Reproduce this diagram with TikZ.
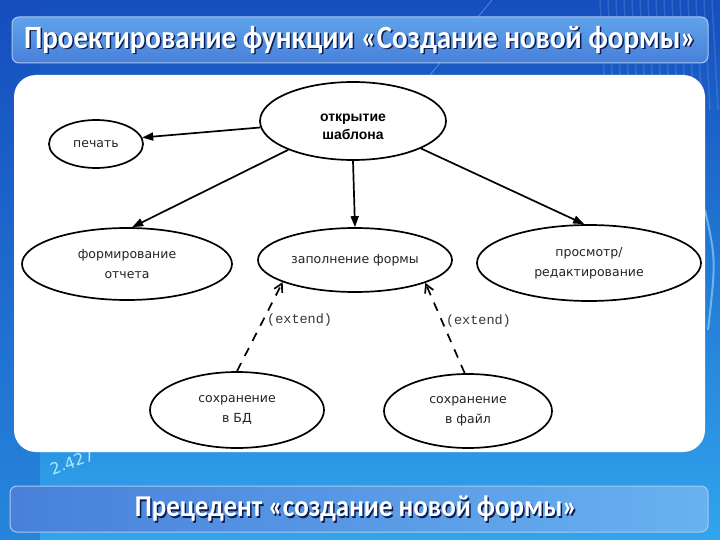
\documentclass[tikz,border=0pt]{standalone}
\usepackage{fontspec}
\setmainfont{DejaVu Sans}
\newfontfamily\opensans{Liberation Sans}
\newfontfamily\titlefont{Carlito}
\newfontfamily\labelfont{Liberation Mono}
\usetikzlibrary{shapes.geometric, arrows.meta}
\definecolor{bgdark}{RGB}{22,78,190}
\definecolor{bglight}{RGB}{48,165,236}
\definecolor{bardark}{RGB}{72,128,218}
\definecolor{barlight}{RGB}{104,178,240}
\definecolor{shadowblue}{RGB}{12,28,80}
\definecolor{usetext}{RGB}{35,35,35}
\definecolor{labelgray}{RGB}{55,55,55}
\tikzset{
  usecase/.style={ellipse, draw=black, line width=1.7pt, fill=white, text=usetext,
    align=center, inner sep=0pt, font=\fontsize{12.5}{20}\selectfont},
  assoc/.style={line width=1.7pt, -{Triangle[length=11pt,width=8pt]}},
  extendarrow/.style={line width=1.7pt, dash pattern=on 9pt off 8pt,
    -{Straight Barb[length=8pt,width=9pt]}},
  extendlabel/.style={right, text=labelgray, font=\labelfont\fontsize{13.5}{14}\selectfont},
  bartext/.style={text=white, yscale=1.12, font=\titlefont\bfseries\fontsize{29}{32}\selectfont},
  barshadow/.style={text=shadowblue, yscale=1.12, font=\titlefont\bfseries\fontsize{29}{32}\selectfont},
}
\begin{document}
\begin{tikzpicture}[x=1pt, y=-1pt]
  \useasboundingbox (0,0) rectangle (720,540);
  % background
  \shade[top color=bgdark, bottom color=bglight] (0,0) rectangle (720,540);
  \fill[bgdark, opacity=0.35] (0,0) rectangle (40,540);
  \foreach \x in {600,608,...,712}
    \draw[white, opacity=0.12, line width=1.5pt] (\x,0) -- (\x+6,110);
  \draw[white, opacity=0.25, line width=1pt] (492,0) -- (430,75);
  \draw[cyan!40, opacity=0.6, line width=2pt] (705,210) .. controls (716,260) .. (708,330);
  \node[text=cyan!30, rotate=20, font=\fontsize{16}{18}\selectfont] (chartnum) at (72,462) {2.427};

  % title bars
  \draw[rounded corners=7pt, draw=white!55!bardark, line width=1pt,
        top color=barlight!70!bardark, bottom color=bardark] (12,17) rectangle (708,63);
  \draw[rounded corners=7pt, draw=white!55!bardark, line width=1pt,
        left color=bardark, right color=barlight] (10,486) rectangle (708,532);
  \node[barshadow] (titleshadow) at (361.5,41.5) {Проектирование функции «Создание новой формы»};
  \node[bartext] (title) at (360,40) {Проектирование функции «Создание новой формы»};
  \node[barshadow, font=\titlefont\bfseries\fontsize{27}{30}\selectfont] (footershadow) at (357.5,510.5) {Прецедент «создание новой формы»};
  \node[bartext, font=\titlefont\bfseries\fontsize{27}{30}\selectfont] (footer) at (356,509) {Прецедент «создание новой формы»};

  % white panel
  \fill[white, rounded corners=22pt] (14,75) rectangle (705,452);

  % use cases
  \node[usecase, minimum width=186pt, minimum height=78pt, text=black,
        font=\opensans\bfseries\fontsize{14}{18}\selectfont] (open) at (353,121) {\rule{0pt}{20pt}открытие\\шаблона};
  \node[usecase, minimum width=94pt, minimum height=48pt] (print) at (96,144) {печать};
  \node[usecase, minimum width=210pt, minimum height=72pt] (report) at (127,264) {формирование\\отчета};
  \node[usecase, minimum width=194pt, minimum height=64pt] (fill) at (355,260) {заполнение формы};
  \node[usecase, minimum width=224pt, minimum height=76pt] (edit) at (589,263) {просмотр/\\редактирование};
  \node[usecase, minimum width=174pt, minimum height=76pt] (savedb) at (237,410) {сохранение\\в БД};
  \node[usecase, minimum width=168pt, minimum height=74pt] (savefile) at (468,411) {сохранение\\в файл};

  % connectors
  \draw[assoc] (open.184) -- (print.8);
  \draw[assoc] (open.204) -- (report.82);
  \draw[assoc] (open.south) -- (fill.north);
  \draw[assoc] (open.338) -- (edit.97);
  \draw[extendarrow] (savedb.north) -- node[extendlabel, pos=0.57] {(extend)} (fill.197);
  \draw[extendarrow] (savefile.95) -- node[extendlabel, pos=0.58] {(extend)} (fill.342);
\end{tikzpicture}
\end{document}
